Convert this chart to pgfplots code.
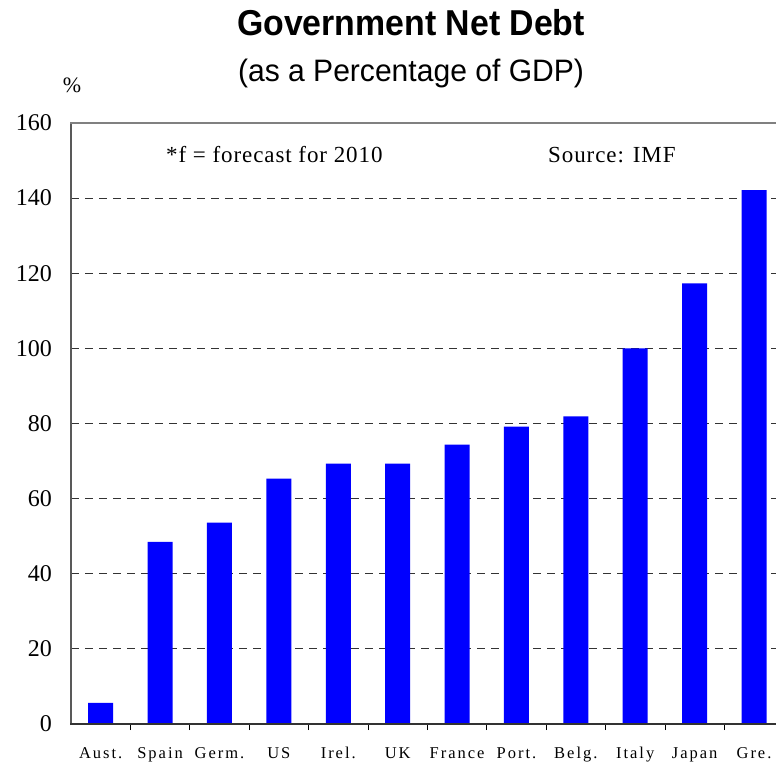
\documentclass[border=0pt]{standalone}
\usepackage{fontspec}
\setmainfont{Liberation Serif}
\newfontfamily\arial{Liberation Sans}
\newfontfamily\spaced[LetterSpace=12]{Liberation Serif}
\newfontfamily\note[LetterSpace=4]{Liberation Serif}
\usepackage{pgfplots}
\pgfplotsset{compat=1.18}

\begin{document}
\begin{tikzpicture}[x=1pt,y=1pt]
\begin{axis}[
  at={(0,0)}, anchor=south west,
  width=705pt, height=601pt, scale only axis,
  xmin=-0.5, xmax=11.37,
  ymin=0, ymax=160,
  axis line style={draw=none},
  /pgf/number format/assume math mode=true,
  ytick={0,20,...,160},
  ymajorgrids,
  grid style={black!80, line width=0.9pt, dash pattern=on 8pt off 6pt},
  major tick length=0pt,
  tick pos=left,
  xtick={0,...,11},
  xticklabels={Aust.,Spain,Germ.,US,Irel.,UK,France,Port.,Belg.,Italy,Japan,Gre.},
  minor xtick={0.5,1.5,...,10.5},
  minor tick length=6pt,
  tick align=inside,
  minor x tick style={black, line width=0.8pt},
  yticklabel style={font=\fontsize{24}{28}\selectfont, anchor=east, inner sep=0pt, xshift=-19pt},
  xticklabel style={font=\spaced\fontsize{16.5}{19}\selectfont, anchor=base, inner sep=0pt, yshift=-34pt},
  ybar, bar width=25pt,
]
\addplot[fill=blue, draw=none] coordinates {
  (0,5.6) (1,48.5) (2,53.6) (3,65.3) (4,69.3) (5,69.3)
  (6,74.4) (7,79.2) (8,81.9) (9,100.0) (10,117.3) (11,142.1)};
\end{axis}
% frame
\draw[line width=2pt, black!65] (0,-1) -- (0,601);
\draw[line width=2.5pt, black!50] (-1,601) -- (710,601);
\draw[line width=2pt, black!80] (-1,0) -- (710,0);
% texts
\node[inner sep=0pt, anchor=base, font=\arial\bfseries\fontsize{36}{40}\selectfont] at (340,688) {\scalebox{0.94}[1]{Government Net Debt}};
\node[inner sep=0pt, anchor=base, font=\arial\fontsize{31}{34}\selectfont] at (340,642) {\scalebox{0.97}[1]{(as a Percentage of GDP)}};
\node[inner sep=0pt, font=\fontsize{22}{24}\selectfont] at (1,639) {\%};
\node[inner sep=0pt, anchor=base west, font=\note\fontsize{23}{26}\selectfont] at (95,561) {*f = forecast for 2010};
\node[inner sep=0pt, anchor=base west, font=\note\fontsize{23}{26}\selectfont] at (477,561) {Source: IMF};
\pgfresetboundingbox
\path[use as bounding box] (-71,-40) rectangle (705,724);
\end{tikzpicture}
\end{document}
